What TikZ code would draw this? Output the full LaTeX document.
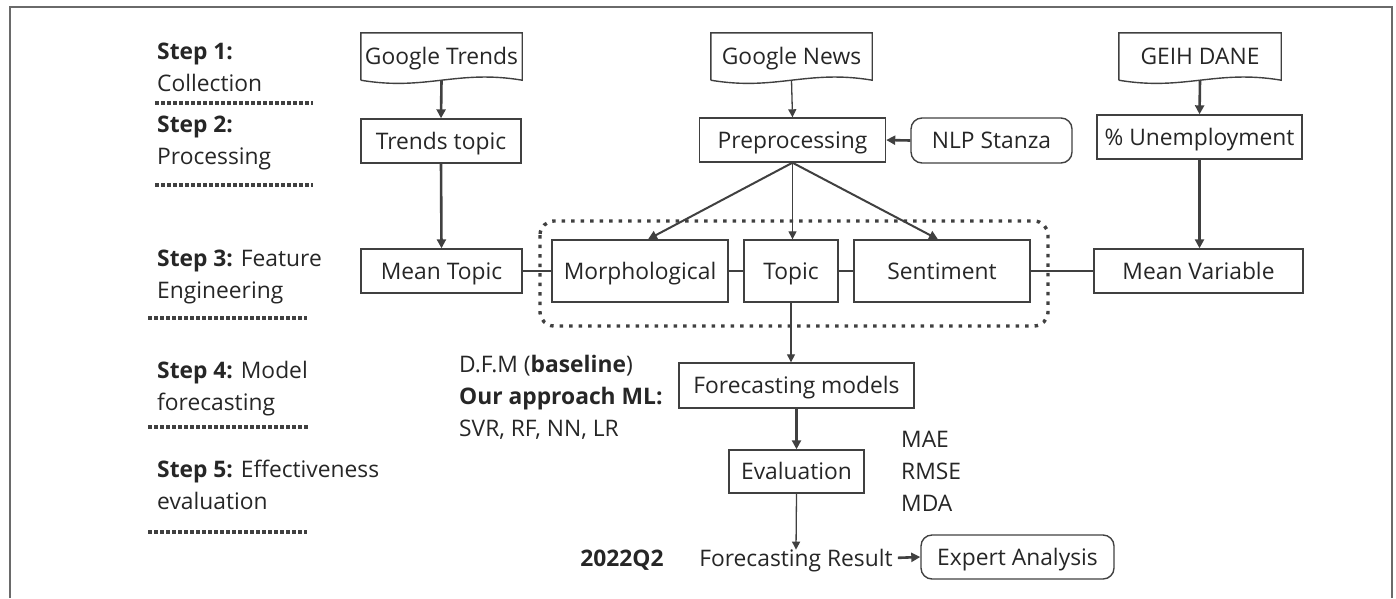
\documentclass[tikz,border=0pt]{standalone}
\usepackage{fontspec}
\setmainfont{Open Sans}
\usetikzlibrary{arrows.meta,calc}
\definecolor{ln}{HTML}{404040}
\definecolor{tx}{HTML}{262626}
\definecolor{fr}{HTML}{6A6A6A}
\tikzset{
  every node/.style={text=tx,font=\fontsize{22.8}{32}\selectfont,inner sep=0pt},
  oneline/.style={text height=18.3pt,text depth=2pt},
  boxnode/.style={oneline,draw=ln,line width=1.4pt,align=center},
  roundnode/.style={boxnode,rounded corners=11pt},
  docnode/.style={oneline,align=center},
  docline/.style={draw=ln,line width=1.4pt},
  thinarr/.style={draw=ln,line width=1.3pt,-{Triangle[length=8pt,width=8pt]}},
  midarr/.style={draw=ln,line width=2pt,-{Triangle[length=9pt,width=9pt]}},
  thickarr/.style={draw=ln,line width=2.6pt,-{Triangle[length=9pt,width=9pt]}},
  link/.style={draw=ln,line width=1.3pt},
  sepline/.style={draw=ln,line width=3.2pt,dash pattern=on 4pt off 2pt},
  groupline/.style={draw=ln,line width=3.4pt,dash pattern=on 3.5pt off 6pt,rounded corners=14pt},
  steplbl/.style={anchor=west,align=left},
}
\newcommand\docshape[1]{%
  \path[docline] (#1.south west) -- (#1.north west) -- (#1.north east) -- (#1.south east)
    .. controls ($(#1.south east)+(-65,-11)$) and ($(#1.south west)+(65,11)$) .. (#1.south west);}
\begin{document}
\begin{tikzpicture}[x=1pt,y=-1pt]
\useasboundingbox (0,0) rectangle (1396,598);
% frame
\draw[fr,line width=1.5pt] (10,598) -- (10,7) -- (1392,7) -- (1392,598);

% step labels
\node[steplbl] (s1) at (157,67) {\textbf{Step 1:}\\Collection};
\node[steplbl] (s2) at (157,143) {\textbf{Step 2:}\\Processing};
\node[steplbl] (s3) at (157,276.5) {\textbf{Step 3:} Feature\\Engineering};
\node[steplbl] (s4) at (157,388.5) {\textbf{Step 4:} Model\\forecasting};
\node[steplbl] (s5) at (157,484.5) {\textbf{Step 5:} Effectiveness\\evaluation};
\path[sepline] (155,103) -- (313,103);
\path[sepline] (155,185) -- (313,185);
\path[sepline] (148,318) -- (307,318);
\path[sepline] (148,427) -- (308,427);
\path[sepline] (148,532) -- (307,532);

% sources
\node[docnode,minimum width=161pt,minimum height=47pt] (gt) at (441.5,56.5) {Google Trends};
\node[docnode,minimum width=161pt,minimum height=47pt] (gn) at (791.5,56.5) {Google News};
\node[docnode,minimum width=162pt,minimum height=47pt] (geih) at (1200,56.5) {GEIH DANE};
\docshape{gt}\docshape{gn}\docshape{geih}

% processing
\node[boxnode,minimum width=160pt,minimum height=44pt] (tt) at (441,141) {Trends topic};
\node[boxnode,minimum width=186pt,minimum height=44pt] (pre) at (792.5,140) {Preprocessing};
\node[roundnode,minimum width=161pt,minimum height=45pt] (nlp) at (991.5,140.5) {NLP Stanza};
\node[boxnode,minimum width=205pt,minimum height=44pt] (unemp) at (1199.5,137) {\% Unemployment};

% features
\node[boxnode,minimum width=161pt,minimum height=44pt] (mt) at (441.5,271) {Mean Topic};
\node[boxnode,minimum width=176pt,minimum height=62pt] (morph) at (640,271) {Morphological};
\node[boxnode,minimum width=94pt,minimum height=62pt] (topic) at (791,271) {Topic};
\node[boxnode,minimum width=176pt,minimum height=62pt] (sent) at (942,271) {Sentiment};
\node[boxnode,minimum width=209pt,minimum height=44pt] (mv) at (1198.5,271) {Mean Variable};
\path[groupline] (540,221) rectangle (1048,326);

% model & evaluation
\node[boxnode,minimum width=235pt,minimum height=45pt] (fm) at (796.5,385.5) {Forecasting models};
\node[boxnode,minimum width=135pt,minimum height=43pt] (ev) at (796.5,471.5) {Evaluation};
\node[oneline] (res) at (796,558) {Forecasting Result};
\node[roundnode,minimum width=193pt,minimum height=44pt] (exp) at (1017.5,557) {Expert Analysis};
\node[oneline,font=\fontsize{22.8}{32}\selectfont\bfseries] (q2) at (622,558) {2022Q2};
\node[anchor=west,align=left] (dfm) at (459,397.5) {D.F.M (\textbf{baseline})\\\textbf{Our approach ML:}\\SVR, RF, NN, LR};
\node[anchor=west,align=left] (met) at (901,471) {MAE\\RMSE\\MDA};

% connectors
\path[thickarr] (gt.south) -- (tt.north);
\path[thinarr] (gn.south) -- (pre.north);
\path[thickarr] (geih.south) -- (unemp.north);
\path[thickarr] (nlp.west) -- (pre.east);
\path[thickarr] (tt.south) -- (mt.north);
\path[thickarr] (unemp.south) -- (unemp.south |- mv.north);
\path[midarr] (pre.south) -- ($(morph.north)+(8,0)$);
\path[thinarr] (pre.south) -- (pre.south |- topic.north);
\path[midarr] (pre.south) -- ($(sent.north)+(-4,0)$);
\path[link] (mt.east) -- (morph.west);
\path[link] (morph.east) -- (topic.west);
\path[link] (topic.east) -- (sent.west);
\path[link] (sent.east) -- (mv.west);
\path[thinarr] (topic.south) -- (topic.south |- fm.north);
\path[thickarr] (fm.south) -- (ev.north);
\path[thinarr] (ev.south) -- ([yshift=-2pt]res.north);
\path[thickarr,shorten <=5pt] (res.east) -- (exp.west);
\end{tikzpicture}
\end{document}
